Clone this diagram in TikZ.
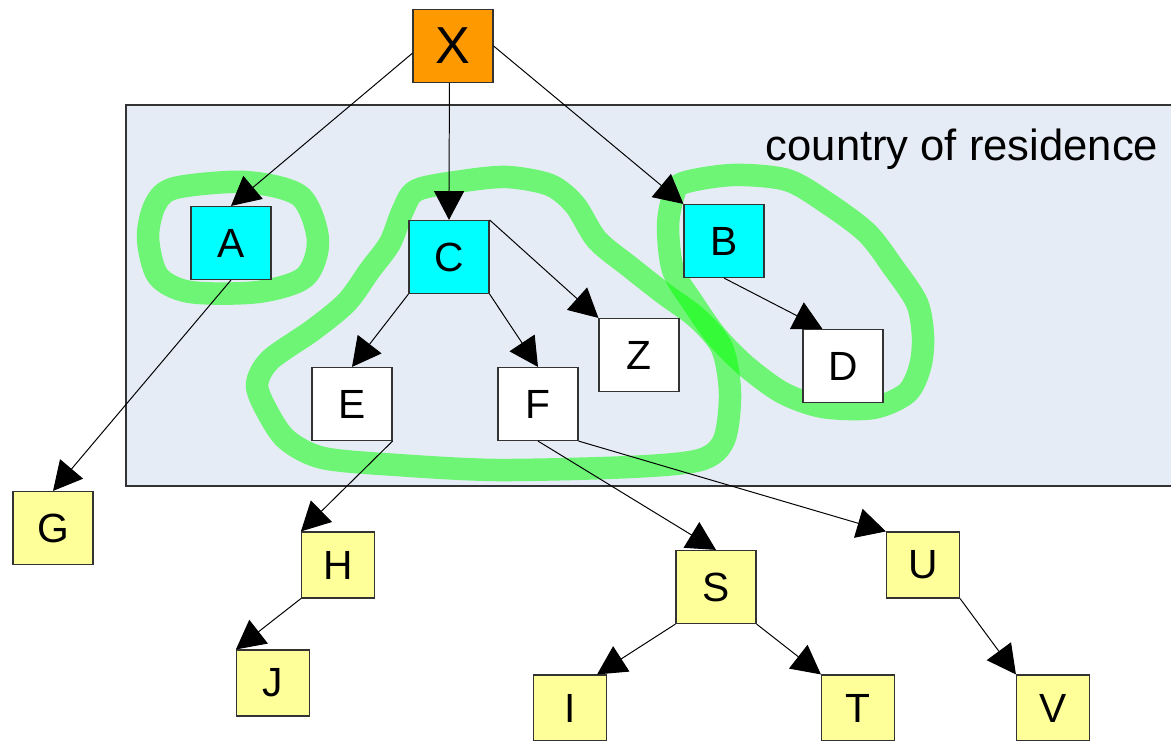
\documentclass[tikz,border=0pt]{standalone}
\usepackage{fontspec}
\setmainfont{Liberation Sans}
\usetikzlibrary{arrows.meta}

\definecolor{residence}{RGB}{230, 236, 246}
\definecolor{rootorange}{RGB}{255, 153, 0}
\definecolor{keycyan}{RGB}{0, 255, 255}
\definecolor{paleyellow}{RGB}{255, 255, 153}

\begin{document}
\begin{tikzpicture}[> = {Triangle[length = 0.72cm, width = 0.75cm]}, x = 0.025cm, y = -0.025cm,
	box/.style = {draw = black!80, line width = 0.8pt, minimum width = 2cm, minimum height = 1.825cm, inner sep = 0pt, font = \fontsize{29}{29}\selectfont},
	lowbox/.style = {box, minimum width = 1.825cm, minimum height = 1.65cm},
	link/.style = {->, line width = 0.7pt},
	scribble/.style = {line width = 16pt, green, opacity = 0.52, line join = round}]

	\useasboundingbox (0, 0) rectangle (1171, 741);

	% Country of residence
	
	\draw [fill = residence, draw = black!80, line width = 0.8pt] (126, 105) rectangle (1200, 486);
	\node (residence) at (962, 149) {\fontsize{31}{31}\selectfont country of residence};
	
	% Green marks
	
	\draw [scribble] plot [smooth cycle] coordinates {(175, 188) (245, 182) (300, 196) (318, 240) (305, 277) (258, 292) (190, 292) (158, 276) (148, 238) (155, 205)};
	\draw [scribble] plot [smooth cycle] coordinates {(417, 190) (463, 181) (507, 177) (550, 185) (575, 205) (597, 240) (630, 267) (663, 293) (697, 318) (722, 348) (730, 393) (724, 440) (700, 460) (630, 467) (497, 470) (397, 465) (323, 458) (287, 440) (268, 413) (257, 385) (270, 360) (313, 330) (347, 302) (370, 270) (390, 243) (403, 210)};
	\draw [scribble] plot [smooth cycle] coordinates {(683, 183) (733, 175) (787, 180) (827, 203) (867, 233) (893, 267) (917, 303) (923, 337) (920, 367) (907, 393) (873, 408) (823, 407) (783, 393) (747, 367) (717, 337) (693, 303) (673, 270) (668, 227) (673, 197)};
	
	% Boxes
	
	\node [box, fill = rootorange, font = \fontsize{37}{37}\selectfont] (X) at (453, 46) {X};
	\node [box, fill = keycyan] (A) at (231, 243) {A};
	\node [box, fill = keycyan] (C) at (449, 257) {C};
	\node [box, fill = keycyan] (B) at (724, 241) {B};
	\node [box, fill = white] (Z) at (639, 355) {Z};
	\node [box, fill = white] (D) at (843, 366) {D};
	\node [box, fill = white] (E) at (352, 404) {E};
	\node [box, fill = white] (F) at (538, 404) {F};
	\node [box, fill = paleyellow] (G) at (53, 528) {G};
	\node [lowbox, fill = paleyellow] (H) at (338, 565) {H};
	\node [lowbox, fill = paleyellow] (J) at (273, 683) {J};
	\node [box, fill = paleyellow] (S) at (716, 587) {S};
	\node [lowbox, fill = paleyellow] (U) at (923, 565) {U};
	\node [lowbox, fill = paleyellow] (I) at (570, 708) {I};
	\node [lowbox, fill = paleyellow] (T) at (858, 708) {T};
	\node [lowbox, fill = paleyellow] (V) at (1053, 708) {V};
	
	% Arrows
	
	\draw [link] ([yshift = -0.18cm] X.west) -- (A.north);
	\draw [link] ([xshift = -0.09cm] X.south) -- (C.north);
	\draw [link] (X.east) -- (B.north west);
	\draw [link] (A.south) -- (G.north);
	\draw [link] (C.south west) -- (E.north);
	\draw [link] (C.south east) -- (F.north);
	\draw [link] (C.north east) -- (Z.north west);
	\draw [link] (B.south) -- ([xshift = 0.5cm] D.north west);
	\draw [link] (E.south east) -- (H.north west);
	\draw [link] (F.south) -- (S.north);
	\draw [link] (F.south east) -- (U.north west);
	\draw [link] (H.south west) -- (J.north west);
	\draw [link] (S.south west) -- ([xshift = -0.25cm] I.north east);
	\draw [link] (S.south east) -- (T.north west);
	\draw [link] (U.south east) -- (V.north west);
	
\end{tikzpicture}
\end{document}
